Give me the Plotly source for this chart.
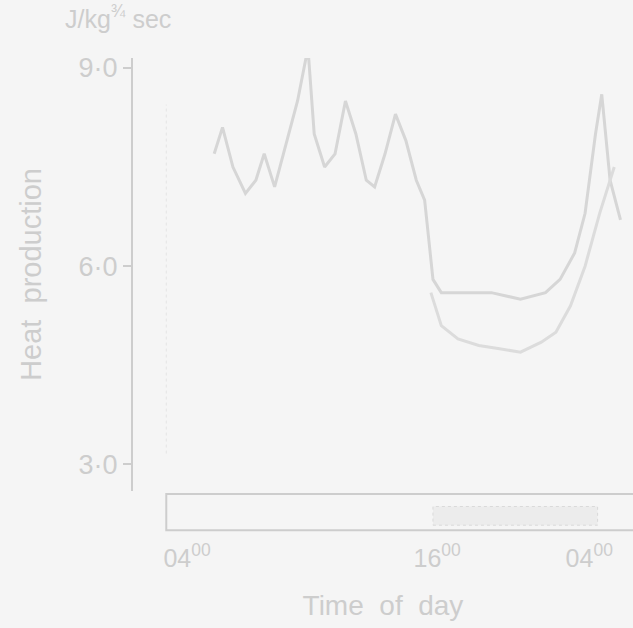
import plotly.graph_objects as go

# hours after 04:00
day_hours = [1.3, 1.7, 2.2, 2.8, 3.3, 3.7, 4.2, 4.9, 5.3, 5.8, 6.1, 6.6, 7.1, 7.6, 8.1,
             8.6, 9.0, 9.5, 10.0, 10.5, 11.0, 11.4, 11.8, 12.2, 13.1, 14.6, 16.0,
             17.2, 17.9, 18.6, 19.1, 19.6, 19.9, 20.3, 20.8]
day_heat = [7.7, 8.1, 7.5, 7.1, 7.3, 7.7, 7.2, 8.0, 8.5, 9.3, 8.0, 7.5, 7.7, 8.5, 8.0,
            7.3, 7.2, 7.7, 8.3, 7.9, 7.3, 7.0, 5.8, 5.6, 5.6, 5.6, 5.5,
            5.6, 5.8, 6.2, 6.8, 8.0, 8.6, 7.3, 6.7]

low_hours = [11.7, 12.2, 13.0, 14.0, 15.0, 16.0, 17.0, 17.7, 18.4, 19.1, 19.8, 20.5]
low_heat = [5.6, 5.1, 4.9, 4.8, 4.75, 4.7, 4.85, 5.0, 5.4, 6.0, 6.8, 7.5]

y_ticks = [3.0, 6.0, 9.0]
y_labels = ['3·0', '6·0', '9·0']
x_ticks = [0, 12, 19.3]
x_labels = ['04<sup>00</sup>', '16<sup>00</sup>', '04<sup>00</sup>']

# light/dark bar
light_start, dark_start, dark_end, bar_end = -1.0, 11.8, 19.7, 21.5

INK = '#cdcdcd'
FONT = "Liberation Sans, Arial, sans-serif"

fig = go.Figure()
fig.add_trace(go.Scatter(x=day_hours, y=day_heat, mode='lines',
                         line=dict(color='#d6d6d6', width=3)))
fig.add_trace(go.Scatter(x=low_hours, y=low_heat, mode='lines',
                         line=dict(color='#dcdcdc', width=3)))

fig.add_shape(type='rect', xref='x', yref='paper', x0=light_start, x1=bar_end,
              y0=0.157, y1=0.215, line=dict(color=INK, width=2), fillcolor='rgba(0,0,0,0)')
fig.add_shape(type='rect', xref='x', yref='paper', x0=dark_start, x1=dark_end,
              y0=0.165, y1=0.195, line=dict(color='#dadada', width=1, dash='dot'),
              fillcolor='#ececec')
fig.add_shape(type='line', xref='x', yref='paper', x0=light_start, x1=light_start,
              y0=0.28, y1=0.84, line=dict(color='#e4e4e4', width=1, dash='dot'))

fig.add_annotation(text='J/kg<sup>¾</sup> sec', xref='paper', yref='paper', x=0.1, y=1.01,
                   xanchor='left', yanchor='top', showarrow=False,
                   font=dict(size=25, color=INK, family=FONT))

fig.update_layout(
    width=633, height=628,
    margin=dict(l=0, r=0, t=0, b=0),
    paper_bgcolor='#f5f5f5', plot_bgcolor='#f5f5f5',
    showlegend=False,
    font=dict(family=FONT, color=INK),
    xaxis=dict(domain=[0.21, 1.0], range=[-2.6, 21.4], anchor='free', position=0.14,
               tickvals=x_ticks, ticktext=x_labels, showline=False, showgrid=False,
               zeroline=False, ticks='', tickfont=dict(size=25, color=INK),
               title=dict(text='Time  of  day', font=dict(size=28, color=INK), standoff=24)),
    yaxis=dict(domain=[0.22, 0.915], range=[2.6, 9.15], tickvals=y_ticks, ticktext=y_labels,
               showline=True, linecolor=INK, linewidth=2, showgrid=False, zeroline=False,
               ticks='outside', ticklen=8, tickcolor=INK, tickwidth=2,
               tickfont=dict(size=27, color=INK),
               title=dict(text='Heat  production', font=dict(size=29, color=INK), standoff=28)),
)

fig.write_html("out.html", config={'displayModeBar': False},
               post_script="document.body.style.margin='0';")
